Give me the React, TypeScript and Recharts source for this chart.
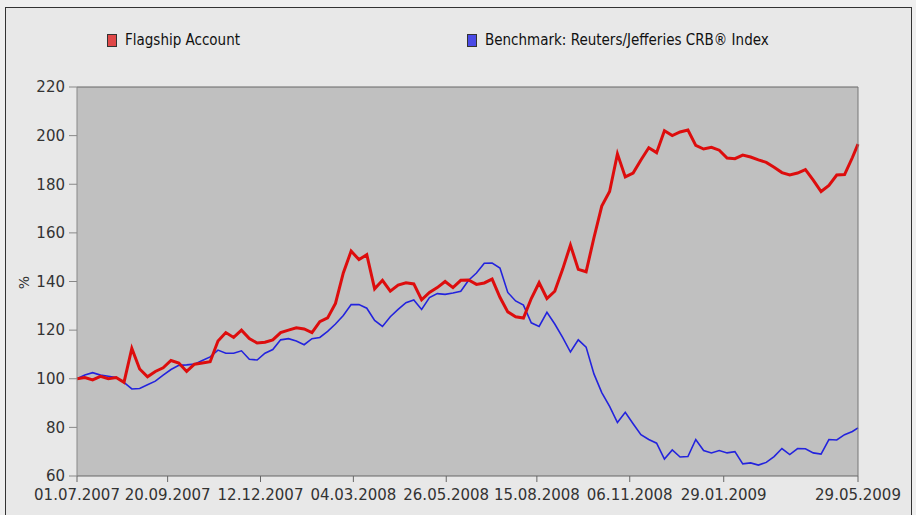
import { CartesianGrid, Legend, Line, LineChart, ReferenceLine, XAxis, YAxis } from "recharts"

const DAY = 24 * 60 * 60 * 1000
const START = Date.UTC(2007, 6, 1)
const END = Date.UTC(2009, 4, 29)

// weekly readings from 01.07.2007, last one on 29.05.2009
const flagship = [
  100, 100.5, 99.5, 101, 100, 100.5, 98.5, 112.5, 104, 100.8,
  103, 104.5, 107.5, 106.5, 103, 106, 106.5, 107, 115.5, 119,
  117, 120, 116.5, 114.7, 115, 116, 119, 120, 121, 120.5,
  119, 123.5, 125, 131, 143.5, 152.5, 149, 151, 137, 140.5,
  136, 138.5, 139.5, 139, 132.5, 135.5, 137.5, 140, 137.5, 140.5,
  140.6, 138.8, 139.4, 141, 133.5, 127.5, 125.5, 125, 133, 139.5,
  133, 136, 145, 155, 145, 144, 158, 171, 177, 192.5,
  183, 184.6, 190, 195, 193, 202, 200, 201.5, 202.3, 196,
  194.5, 195.2, 194, 190.8, 190.5, 192, 191.2, 190, 189, 187,
  184.8, 183.8, 184.6, 186, 181.7, 177, 179.5, 183.8, 184, 191,
  196.5,
]

const benchmark = [
  100, 101.5, 102.5, 101.5, 101, 100.5, 98.5, 95.8, 96, 97.5,
  99, 101.5, 103.8, 105.5, 105.7, 106, 107.5, 109, 111.8, 110.5,
  110.5, 111.5, 108, 107.7, 110.5, 112, 116, 116.5, 115.5, 114,
  116.5, 117, 119.5, 122.5, 126, 130.5, 130.5, 129, 124, 121.5,
  125.5, 128.5, 131.3, 132.4, 128.5, 133.4, 135, 134.7, 135.3, 136,
  140.5, 143.5, 147.5, 147.6, 145.5, 135.5, 132, 130.3, 123, 121.5,
  127.3, 122.5, 117, 111, 116, 113, 102, 94.3, 88.6, 82,
  86.2, 81.5, 77, 75, 73.5, 67, 70.7, 67.8, 68, 75,
  70.5, 69.5, 70.5, 69.5, 70, 65, 65.4, 64.5, 65.6, 68,
  71.3, 68.8, 71.3, 71.2, 69.5, 69, 75, 74.8, 77, 78.3,
  79.8,
]

const dates = flagship.map((_, i) => (i < flagship.length - 1 ? START + i * 7 * DAY : END))

const xTicks = [
  Date.UTC(2007, 6, 1),
  Date.UTC(2007, 8, 20),
  Date.UTC(2007, 11, 12),
  Date.UTC(2008, 2, 4),
  Date.UTC(2008, 4, 26),
  Date.UTC(2008, 7, 15),
  Date.UTC(2008, 10, 6),
  Date.UTC(2009, 0, 29),
  Date.UTC(2009, 4, 29),
]

const yTicks = [60, 80, 100, 120, 140, 160, 180, 200, 220]

const data = dates.map((t, i) => ({ t, flagship: flagship[i], benchmark: benchmark[i] }))

const pad = (n: number) => String(n).padStart(2, "0")
const fmtDate = (t: number) => {
  const d = new Date(t)
  return `${pad(d.getUTCDate())}.${pad(d.getUTCMonth() + 1)}.${d.getUTCFullYear()}`
}

const font = "'DejaVu Sans', sans-serif"

function LegendBox() {
  const item = (left: number, fill: string, text: string) => (
    <div style={{ position: "absolute", left, top: 0, display: "flex", alignItems: "center" }}>
      <span
        style={{
          width: 8,
          height: 11,
          background: fill,
          border: "1px solid #333",
          marginRight: 8,
          display: "inline-block",
        }}
      />
      <span style={{ fontFamily: "'DejaVu Sans Condensed', 'DejaVu Sans', sans-serif", fontSize: 15, color: "#111" }}>
        {text}
      </span>
    </div>
  )
  return (
    <div style={{ position: "relative", width: 916, height: 20 }}>
      {item(107, "#e04848", "Flagship Account")}
      {item(467, "#4a4ae6", "Benchmark: Reuters/Jefferies CRB® Index")}
    </div>
  )
}

const PercentLabel = (props: any) => {
  const vb = props.viewBox || { x: 0, y: 87, width: 77, height: 389 }
  const x = vb.x + 24
  const y = vb.y + vb.height / 2 + 1
  return (
    <text
      x={x}
      y={y}
      transform={`rotate(-90 ${x} ${y})`}
      textAnchor="middle"
      dominantBaseline="central"
      fill="#333"
      fontSize={14}
      fontFamily={font}
    >
      %
    </text>
  )
}

export default function App() {
  return (
    <div style={{ position: "absolute", left: 0, top: 0, width: 916, height: 515, background: "#efefef", overflow: "hidden" }}>
      <div
        style={{
          position: "absolute",
          left: 5,
          top: 7,
          width: 907,
          height: 520,
          boxSizing: "border-box",
          border: "1px solid #333",
          background: "#e8e8e8",
        }}
      />
      <div style={{ position: "absolute", left: 0, top: 0 }}>
        <LineChart width={916} height={515} data={data} margin={{ top: 87, right: 0, bottom: 0, left: 0 }}>
          <CartesianGrid horizontal={false} vertical={false} fill="#c0c0c0" stroke="none" />
          <XAxis
            dataKey="t"
            type="number"
            domain={[START, END]}
            ticks={xTicks}
            tickFormatter={fmtDate}
            height={39}
            stroke="#666"
            tickSize={6}
            tickMargin={7}
            tick={{ fill: "#333", fontSize: 15, fontFamily: font }}
            interval={0}
          />
          <YAxis
            yAxisId="left"
            domain={[60, 220]}
            ticks={yTicks}
            width={77}
            stroke="#888"
            tickSize={8}
            tickMargin={4}
            tick={{ fill: "#333", fontSize: 15, fontFamily: font }}
            label={<PercentLabel />}
          />
          <YAxis
            yAxisId="right"
            orientation="right"
            domain={[60, 220]}
            ticks={yTicks}
            width={58}
            stroke="#777"
            tickSize={3}
            tickFormatter={() => ""}
          />
          <ReferenceLine yAxisId="left" y={220} stroke="#666" />
          <Legend verticalAlign="middle" content={<LegendBox />} wrapperStyle={{ top: 31, left: 0, width: 916 }} />
          <Line
            yAxisId="left"
            type="linear"
            dataKey="benchmark"
            stroke="#2323dd"
            strokeWidth={1.6}
            dot={false}
            isAnimationActive={false}
            name="Benchmark: Reuters/Jefferies CRB® Index"
          />
          <Line
            yAxisId="left"
            type="linear"
            dataKey="flagship"
            stroke="#dd0d0d"
            strokeWidth={3}
            dot={false}
            isAnimationActive={false}
            name="Flagship Account"
          />
        </LineChart>
      </div>
    </div>
  )
}
